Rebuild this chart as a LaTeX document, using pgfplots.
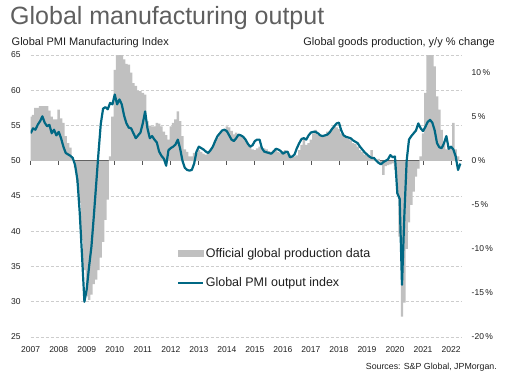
\documentclass[border=0pt]{standalone}
\usepackage{fontspec}
\setmainfont{Liberation Sans}
\usepackage{pgfplots}
\usepackage{pgfplotstable}
\pgfplotsset{compat=1.18}
\definecolor{linecol}{RGB}{0,104,132}
\definecolor{barcol}{RGB}{192,192,192}
\definecolor{gridcol}{RGB}{205,205,205}
\definecolor{zerocol}{RGB}{85,85,85}
\definecolor{titlecol}{RGB}{95,95,95}
\definecolor{txtcol}{RGB}{30,30,30}

\pgfplotstableread{
m pmi
0 53.9
1 54.6
2 54.4
3 55.1
4 55.6
5 56.3
6 55.4
7 54.9
8 55.1
9 53.9
10 54.4
11 53.6
12 54.1
13 53.2
14 52.0
15 51.1
16 50.9
17 50.7
18 50.4
19 49.4
20 47.3
21 42.6
22 36.4
23 30.0
24 31.8
25 35.0
26 37.8
27 42.0
28 46.5
29 51.0
30 55.2
31 57.4
32 57.6
33 57.3
34 58.2
35 58.0
36 59.4
37 58.0
38 58.7
39 58.0
40 56.4
41 55.3
42 54.7
43 54.6
44 53.9
45 53.2
46 53.6
47 54.0
48 55.3
49 57.0
50 54.6
51 53.2
52 53.5
53 53.0
54 52.6
55 51.3
56 50.7
57 50.3
58 49.3
59 51.5
60 51.8
61 52.0
62 52.3
63 53.0
64 51.7
65 50.0
66 49.0
67 48.7
68 48.6
69 48.7
70 49.6
71 51.3
72 52.0
73 51.8
74 51.6
75 51.3
76 51.1
77 51.5
78 52.0
79 52.8
80 53.5
81 53.9
82 54.3
83 54.4
84 54.2
85 53.6
86 53.0
87 52.8
88 53.2
89 53.7
90 53.6
91 53.4
92 53.0
93 52.4
94 52.0
95 52.2
96 52.8
97 53.0
98 53.0
99 51.8
100 51.3
101 51.2
102 51.1
103 51.0
104 51.3
105 51.7
106 51.6
107 51.4
108 51.0
109 51.2
110 51.3
111 50.5
112 50.6
113 50.9
114 51.8
115 52.5
116 53.1
117 53.2
118 53.0
119 53.6
120 54.0
121 54.1
122 54.1
123 53.9
124 53.6
125 53.5
126 53.6
127 53.7
128 54.0
129 54.5
130 54.9
131 55.3
132 55.4
133 54.3
134 53.6
135 53.4
136 53.3
137 53.2
138 52.9
139 52.7
140 52.5
141 52.0
142 51.6
143 51.2
144 50.9
145 50.6
146 50.4
147 50.4
148 50.0
149 49.7
150 49.5
151 49.8
152 50.0
153 50.2
154 50.8
155 50.5
156 50.6
157 45.4
158 44.6
159 32.4
160 42.2
161 50.0
162 53.0
163 53.5
164 53.9
165 54.3
166 55.3
167 54.6
168 54.2
169 54.8
170 55.5
171 55.8
172 55.4
173 54.3
174 52.5
175 51.9
176 51.8
177 52.5
178 53.5
179 51.7
180 52.0
181 51.6
182 50.6
183 48.7
184 49.6
}\pmidata

\pgfplotstableread{
m prod
0 5.0
1 5.2
2 6.0
3 6.0
4 6.2
5 6.2
6 6.2
7 6.2
8 5.7
9 5.0
10 4.7
11 4.7
12 5.8
13 4.8
14 4.3
15 2.8
16 2.0
17 1.5
18 0.4
19 -0.8
20 -2.5
21 -4.8
22 -9.0
23 -12.4
24 -15.4
25 -15.8
26 -15.2
27 -14.0
28 -13.5
29 -12.4
30 -11.0
31 -9.2
32 -6.7
33 -4.4
34 0.5
35 5.0
36 10.3
37 12.5
38 12.5
39 12.0
40 11.5
41 11.0
42 10.9
43 10.0
44 8.8
45 8.5
46 7.9
47 7.9
48 7.7
49 7.5
50 4.5
51 4.0
52 3.9
53 3.9
54 4.3
55 4.2
56 3.9
57 3.3
58 2.9
59 2.4
60 3.9
61 4.3
62 4.7
63 5.6
64 4.5
65 2.8
66 1.3
67 1.0
68 0.5
69 0.5
70 0.9
71 0.9
72 1.2
73 1.0
74 0.8
75 0.7
76 0.9
77 1.2
78 1.5
79 2.2
80 2.6
81 3.0
82 3.3
83 3.6
84 3.9
85 3.8
86 3.4
87 3.0
88 3.2
89 3.0
90 2.8
91 2.7
92 2.4
93 1.8
94 1.6
95 1.3
96 1.2
97 1.4
98 1.6
99 1.5
100 1.4
101 1.3
102 1.1
103 1.0
104 1.2
105 1.3
106 1.0
107 0.9
108 1.1
109 1.2
110 0.8
111 0.7
112 0.5
113 0.5
114 0.6
115 1.2
116 1.8
117 2.5
118 1.8
119 2.0
120 2.4
121 3.1
122 3.5
123 2.9
124 2.9
125 2.8
126 2.9
127 3.3
128 3.4
129 3.6
130 3.9
131 3.8
132 3.6
133 3.1
134 2.8
135 2.7
136 2.5
137 2.3
138 2.0
139 1.9
140 1.6
141 1.2
142 1.0
143 0.7
144 0.6
145 0.5
146 1.2
147 0.2
148 0.1
149 0.2
150 -0.4
151 -1.6
152 -0.6
153 -0.5
154 -0.4
155 -0.3
156 -1.0
157 -3.8
158 -8.6
159 -17.7
160 -16.1
161 -10.0
162 -7.0
163 -5.0
164 -3.5
165 -1.8
166 -0.9
167 0.5
168 3.1
169 7.7
170 13.0
171 14.0
172 12.5
173 10.7
174 7.3
175 5.8
176 3.5
177 2.0
178 1.3
179 1.6
180 1.6
181 4.3
182 1.3
183 0.5
}\proddata

\begin{document}
\begin{tikzpicture}[x=1pt,y=1pt]
\path[use as bounding box] (0,0) rectangle (516,381);
\pgfplotsset{
  base/.style={at={(30.7pt,44pt)}, anchor=south west, scale only axis,
    width=431.3pt, height=282pt, xmin=0, xmax=184.7,
    /pgf/number format/assume math mode=true,
    tick label style={font=\fontsize{8.5}{10}\selectfont, text=txtcol}},
}
% Axis A: grid and labels (PMI scale)
\begin{axis}[base, ymin=25, ymax=65, ytick={25,30,...,65},
  ymajorgrids, major grid style={gridcol, dash pattern=on 3pt off 2pt, line width=0.8pt},
  axis line style={draw=none}, major tick length=0pt,
  xtick={0,12,...,180},
  xticklabel={\pgfmathparse{int(round(2007+\tick/12))}\pgfmathresult},
  xticklabel style={anchor=base, inner sep=0pt, yshift=-15pt},
  yticklabel style={anchor=east, inner sep=0pt, xshift=-10pt},
  ]
\end{axis}
% Axis B: production bars (% scale)
\begin{axis}[base, ymin=-20, ymax=12, ytick={-20,-15,...,10},
  axis x line=middle, axis y line=right,
  x axis line style={zerocol, line width=1.2pt, -},
  y axis line style={draw=none},
  ytick style={draw=none},
  xtick={0,12,...,180}, xticklabels={},
  xtick style={zerocol, line width=0.8pt},
  xtick align=outside, major tick length=4pt,
  yticklabel={\pgfmathprintnumber{\tick}\,\%},
  yticklabel style={anchor=west, inner sep=0pt, xshift=7.5pt},
  ]
\addplot[ybar, bar width=1.06, fill=barcol, draw=none] table[x=m,y=prod]{\proddata};
\end{axis}
% Axis C: PMI line
\begin{axis}[base, ymin=25, ymax=65, hide axis,
  legend style={at={(0.339,0.321)}, anchor=north west, draw=none, fill=none,
    inner sep=0pt, row sep=16pt,
    font=\fontsize{12.5}{14}\selectfont, text=txtcol,
    nodes={inner sep=1.5pt}},
  legend cell align=left,
  ]
\addlegendimage{legend image code/.code={\fill[barcol] (0pt,-3pt) rectangle (25pt,3pt);}}
\addlegendentry{Official global production data}
\addplot[linecol, line width=2.2pt, line join=round,
  legend image code/.code={\draw[linecol, line width=2.2pt] (0pt,0pt) -- (25pt,0pt);}]
  table[x=m,y=pmi]{\pmidata};
\addlegendentry{Global PMI output index}
\end{axis}
\node[anchor=base west, inner sep=0pt, text=titlecol, font=\fontsize{25}{30}\selectfont] at (10,356) {Global manufacturing output};
\node[anchor=base west, inner sep=0pt, text=txtcol, font=\fontsize{11}{13}\selectfont] at (11.5,335.5) {Global PMI Manufacturing Index};
\node[anchor=base east, inner sep=0pt, text=txtcol, font=\fontsize{11}{13}\selectfont] at (495,335.5) {Global goods production, y/y \% change};
\node[anchor=base east, inner sep=0pt, text=txtcol, font=\fontsize{8.8}{10}\selectfont] at (497,12) {Sources: S\&P Global, JPMorgan.};
\end{tikzpicture}
\end{document}
